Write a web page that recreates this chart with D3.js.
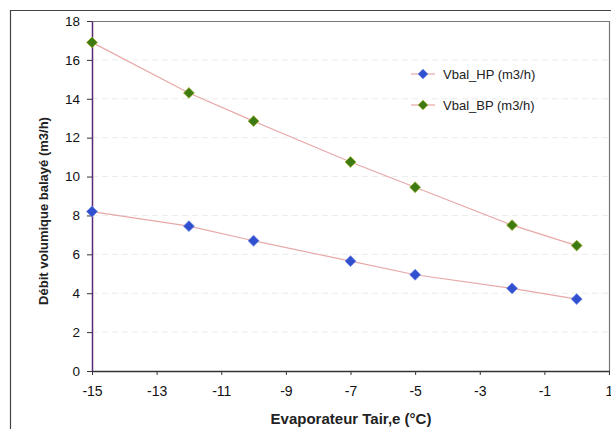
<!DOCTYPE html>
<html><head><meta charset="utf-8">
<script src="https://cdn.jsdelivr.net/npm/d3@7"></script>
<style>body{margin:0;background:#fff}svg{display:block;font-family:"Liberation Sans",Arial,sans-serif}</style>
</head><body><svg id="c" width="611" height="429"></svg>
<script>
const xValues = [-15, -12, -10, -7, -5, -2, 0];
const hpValues = [8.2, 7.45, 6.7, 5.65, 4.95, 4.25, 3.7];
const bpValues = [16.9, 14.3, 12.85, 10.75, 9.45, 7.5, 6.45];
const seriesNames = ["Vbal_HP (m3/h)", "Vbal_BP (m3/h)"];
const xTicks = [-15, -13, -11, -9, -7, -5, -3, -1, 1];
const yTicks = [0, 2, 4, 6, 8, 10, 12, 14, 16, 18];

const svg = d3.select("#c");
const L = 92, R = 609, T = 21, B = 371;
const x = d3.scaleLinear().domain([-15, 1]).range([L, R]);
const y = d3.scaleLinear().domain([0, 18]).range([B, T]);

// outer chart border
svg.append("path").attr("d", `M10.5,440 V10.5 H620`).attr("fill","none").attr("stroke","#444").attr("stroke-width",1.2);

// gridlines
svg.append("g").selectAll("line").data(yTicks.filter(d=>d>0 && d<18)).join("line")
  .attr("x1", L).attr("x2", R).attr("y1", d=>y(d)).attr("y2", d=>y(d))
  .attr("stroke", "#ececec").attr("stroke-dasharray","6,4");

// plot area top/right border
svg.append("path").attr("d", `M${L},${T+0.5} H${R}.5 V${B}`).attr("fill","none").attr("stroke","#777").attr("stroke-width",1.2);

// axes
const xAxis = svg.append("g").attr("transform", `translate(0,${B})`)
  .call(d3.axisBottom(x).tickValues(xTicks).tickSize(4).tickSizeOuter(0).tickFormat(d => String(d)));
xAxis.select(".domain").attr("stroke","#333").attr("stroke-width",1.5);
xAxis.selectAll(".tick line").attr("stroke","#333");
xAxis.selectAll("text").attr("font-size",14).attr("fill","#111").attr("y",11).attr("dy","1.0em");

const yAxis = svg.append("g").attr("transform", `translate(${L},0)`)
  .call(d3.axisLeft(y).tickValues(yTicks).tickSize(5).tickSizeOuter(0).tickFormat(d => String(d)));
yAxis.select(".domain").attr("stroke","#5a2a7a").attr("stroke-width",1.5);
yAxis.selectAll(".tick line").attr("stroke","#333");
yAxis.selectAll("text").attr("font-size",13.5).attr("fill","#111").attr("x",-12);

// axis titles
svg.append("text").attr("x", 351).attr("y", 424).attr("text-anchor","middle")
  .attr("font-size",15).attr("font-weight","bold").attr("fill","#222").text("Evaporateur Tair,e (°C)");
svg.append("text").attr("transform", `translate(48,${(T+B)/2 + 15}) rotate(-90)`).attr("text-anchor","middle")
  .attr("font-size",13).attr("font-weight","bold").attr("fill","#222").text("Débit volumique balayé (m3/h)");

const series = [
  {name: seriesNames[0], values: hpValues, color: "#3050d0", edge: "#6a80e0"},
  {name: seriesNames[1], values: bpValues, color: "#3d7a12", edge: "#a0b030"}
];
const line = d3.line().x((d,i)=>x(xValues[i])).y(d=>y(d));
const diamond = d3.symbol().type(d3.symbolDiamond2).size(75);

series.forEach(s => {
  svg.append("path").datum(s.values).attr("d", line).attr("fill","none").attr("stroke","#e8a8a8").attr("stroke-width",1.2);
  svg.append("g").selectAll("path").data(s.values).join("path")
    .attr("d", diamond).attr("transform",(d,i)=>`translate(${x(xValues[i])},${y(d)})`)
    .attr("fill", s.color).attr("stroke", s.edge).attr("stroke-width",0.8);
});

// legend
const lg = svg.append("g");
series.forEach((s,i) => {
  const ly = 74 + i*31;
  lg.append("line").attr("x1",411).attr("x2",435).attr("y1",ly).attr("y2",ly).attr("stroke","#e8a8a8").attr("stroke-width",1.2);
  lg.append("path").attr("d", d3.symbol().type(d3.symbolDiamond2).size(60)).attr("transform",`translate(423,${ly})`).attr("fill",s.color).attr("stroke",s.edge).attr("stroke-width",0.8);
  lg.append("text").attr("x",443).attr("y",ly+5).attr("font-size",13).attr("fill","#222").text(s.name);
});
</script></body></html>
